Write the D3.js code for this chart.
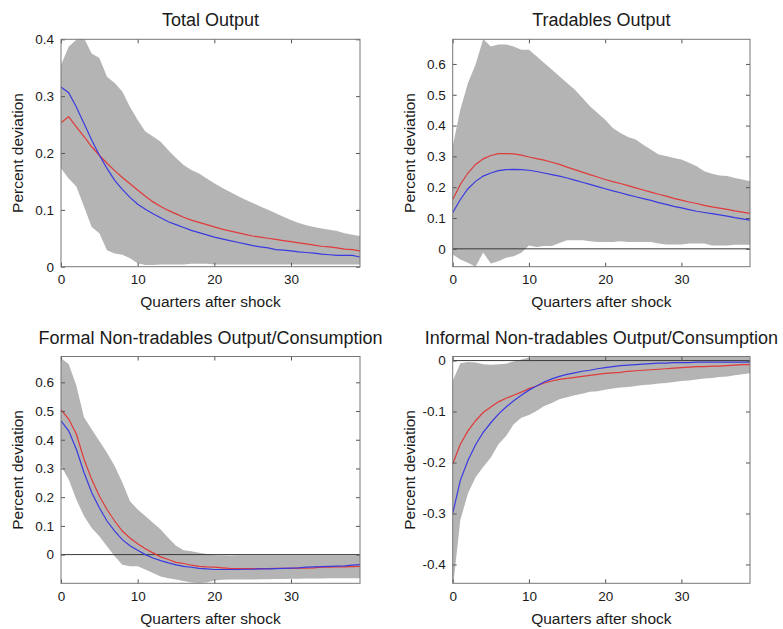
<!DOCTYPE html>
<html>
<head>
<meta charset="utf-8">
<script src="https://cdn.jsdelivr.net/npm/d3@7"></script>
<style>
  html, body { margin: 0; padding: 0; background: #fff; }
  svg text { font-family: "Liberation Sans", Arial, Helvetica, sans-serif; fill: #1a1a1a; }
</style>
</head>
<body>
<svg id="chart" width="783" height="629"></svg>
<script>
// Impulse responses, quarters 0..39 after the shock
const quarters = d3.range(0, 40);
const xTicks = [0, 10, 20, 30];

const panelTitles = [
  "Total Output",
  "Tradables Output",
  "Formal Non-tradables Output/Consumption",
  "Informal Non-tradables Output/Consumption"
];
const xAxisLabel = "Quarters after shock";
const yAxisLabel = "Percent deviation";

// Total output
const totalUpper = [.355,.387,.399,.402,.375,.367,.334,.323,.308,.281,.258,.238,.229,.220,.205,.191,.179,.170,.164,.155,.147,.139,.132,.125,.118,.112,.106,.100,.094,.088,.082,.077,.073,.070,.067,.065,.063,.059,.056,.054];
const totalLower = [.173,.155,.141,.106,.070,.059,.029,.023,.021,.015,.006,.003,.003,.004,.004,.004,.004,.005,.005,.005,.004,.004,.004,.004,.004,.004,.004,.004,.004,.004,.004,.004,.004,.004,.004,.004,.004,.004,.004,.004];
const totalRed   = [.253,.264,.246,.229,.211,.196,.182,.169,.157,.146,.135,.124,.114,.106,.099,.093,.087,.082,.078,.074,.070,.066,.063,.060,.057,.054,.052,.050,.048,.046,.044,.042,.040,.038,.036,.035,.033,.031,.030,.028];
const totalBlue  = [.316,.306,.281,.252,.223,.196,.173,.152,.136,.122,.110,.101,.093,.086,.079,.074,.069,.064,.060,.056,.052,.049,.046,.043,.040,.037,.035,.033,.030,.029,.028,.026,.025,.024,.022,.021,.020,.020,.020,.017];

// Tradables output
const tradUpper = [.333,.452,.538,.598,.681,.657,.663,.663,.657,.646,.646,.625,.603,.582,.560,.538,.517,.490,.463,.441,.419,.392,.376,.363,.355,.338,.322,.306,.301,.295,.290,.279,.268,.252,.244,.238,.236,.230,.225,.219];
const tradLower = [-.018,-.035,-.045,-.058,-.012,-.048,-.040,-.029,-.024,-.013,.011,.006,.009,.009,.019,.028,.028,.028,.025,.022,.022,.022,.025,.022,.022,.022,.022,.017,.014,.014,.014,.017,.017,.017,.011,.011,.011,.013,.013,.013];
const tradRed   = [.160,.209,.246,.274,.292,.303,.309,.309,.308,.304,.298,.293,.288,.281,.274,.265,.257,.249,.241,.233,.225,.218,.212,.205,.198,.191,.184,.177,.171,.164,.158,.152,.147,.141,.136,.132,.128,.123,.119,.115];
const tradBlue  = [.117,.160,.195,.219,.236,.246,.254,.257,.258,.257,.255,.251,.246,.241,.236,.230,.223,.216,.209,.202,.195,.188,.182,.175,.169,.163,.157,.150,.144,.138,.133,.127,.122,.118,.114,.110,.106,.101,.097,.093];

// Formal non-tradables output / consumption
const formalUpper = [.684,.664,.589,.478,.437,.396,.355,.309,.251,.186,.157,.134,.111,.087,.058,.031,.015,.012,.006,.002,-.002,-.002,-.003,-.002,-.002,-.002,-.002,-.002,-.002,-.002,-.002,-.002,-.002,-.002,-.002,-.002,-.002,-.002,-.002,-.002];
const formalLower = [.309,.262,.192,.134,.093,.064,.029,-.006,-.035,-.041,-.041,-.052,-.064,-.076,-.082,-.087,-.092,-.097,-.099,-.097,-.090,-.088,-.087,-.087,-.087,-.087,-.086,-.086,-.085,-.085,-.084,-.084,-.083,-.083,-.083,-.082,-.082,-.082,-.082,-.082];
const formalRed   = [.505,.472,.420,.332,.262,.204,.157,.117,.082,.058,.038,.020,.006,-.008,-.017,-.027,-.031,-.037,-.041,-.043,-.044,-.046,-.048,-.049,-.049,-.049,-.049,-.049,-.048,-.048,-.048,-.047,-.047,-.046,-.044,-.044,-.043,-.043,-.042,-.041];
const formalBlue  = [.466,.431,.367,.286,.216,.163,.117,.082,.052,.031,.015,.000,-.012,-.021,-.029,-.036,-.041,-.044,-.048,-.050,-.052,-.052,-.052,-.052,-.051,-.051,-.050,-.050,-.049,-.048,-.047,-.046,-.044,-.043,-.042,-.041,-.040,-.039,-.037,-.035];

// Informal non-tradables output / consumption
const informalUpper = [-.040,-.005,-.003,-.004,-.007,-.008,-.007,-.006,-.002,.002,.006,.008,.008,.008,.008,.008,.008,.008,.008,.008,.008,.008,.008,.008,.008,.008,.008,.008,.008,.008,.008,.008,.008,.008,.008,.008,.008,.008,.008,.008];
const informalLower = [-.450,-.313,-.261,-.229,-.209,-.190,-.164,-.148,-.125,-.112,-.107,-.099,-.089,-.083,-.076,-.072,-.068,-.065,-.061,-.060,-.057,-.055,-.053,-.052,-.050,-.048,-.047,-.045,-.044,-.042,-.040,-.039,-.037,-.035,-.034,-.032,-.031,-.029,-.027,-.025];
const informalRed   = [-.203,-.164,-.138,-.118,-.102,-.091,-.081,-.074,-.068,-.062,-.055,-.050,-.044,-.040,-.037,-.035,-.033,-.031,-.029,-.027,-.025,-.024,-.023,-.021,-.020,-.019,-.018,-.017,-.016,-.015,-.014,-.013,-.012,-.012,-.011,-.011,-.010,-.009,-.008,-.008];
const informalBlue  = [-.300,-.235,-.196,-.165,-.141,-.122,-.105,-.091,-.079,-.068,-.058,-.050,-.042,-.036,-.031,-.027,-.024,-.021,-.019,-.016,-.014,-.012,-.010,-.009,-.008,-.007,-.006,-.005,-.005,-.004,-.004,-.004,-.003,-.003,-.003,-.003,-.003,-.003,-.003,-.003];

const yTicksTotal = [0, 0.1, 0.2, 0.3, 0.4];
const yTicksTrad = [0, 0.1, 0.2, 0.3, 0.4, 0.5, 0.6];
const yTicksFormal = [0, 0.1, 0.2, 0.3, 0.4, 0.5, 0.6];
const yTicksInformal = [-0.4, -0.3, -0.2, -0.1, 0];

const panels = [
  { title: panelTitles[0], upper: totalUpper, lower: totalLower, red: totalRed, blue: totalBlue,
    yDomain: [0, 0.4], yTicks: yTicksTotal, box: [61, 39.3, 360, 266.7], zero: false },
  { title: panelTitles[1], upper: tradUpper, lower: tradLower, red: tradRed, blue: tradBlue,
    yDomain: [-0.058, 0.68], yTicks: yTicksTrad, box: [452.7, 39.3, 750, 266.7], zero: true },
  { title: panelTitles[2], upper: formalUpper, lower: formalLower, red: formalRed, blue: formalBlue,
    yDomain: [-0.1, 0.69], yTicks: yTicksFormal, box: [61, 356.5, 360, 583.3], zero: true },
  { title: panelTitles[3], upper: informalUpper, lower: informalLower, red: informalRed, blue: informalBlue,
    yDomain: [-0.437, 0.008], yTicks: yTicksInformal, box: [452.7, 356.5, 750, 583.3], zero: true }
];

const svg = d3.select("#chart");
const fmt = d => d === 0 ? "0" : (d < 0 ? "-" : "") + d3.format(".1f")(Math.abs(d));
const tickLen = 4;

panels.forEach((p, k) => {
  const [x0, y0, x1, y1] = p.box;
  const x = d3.scaleLinear().domain([0, 39]).range([x0, x1]);
  const y = d3.scaleLinear().domain(p.yDomain).range([y1, y0]);
  const g = svg.append("g");

  const clipId = "clip" + k;
  svg.append("clipPath").attr("id", clipId)
    .append("rect").attr("x", x0).attr("y", y0).attr("width", x1 - x0).attr("height", y1 - y0);

  const plot = g.append("g").attr("clip-path", `url(#${clipId})`);

  // confidence band
  const band = d3.area()
    .x((d, i) => x(quarters[i]))
    .y0((d, i) => y(p.lower[i]))
    .y1((d, i) => y(p.upper[i]));
  plot.append("path").datum(quarters).attr("d", band).attr("fill", "#b4b4b4");

  // zero reference line
  if (p.zero) {
    plot.append("line")
      .attr("x1", x0).attr("x2", x1)
      .attr("y1", y(0)).attr("y2", y(0))
      .attr("stroke", "#3a3a3a").attr("stroke-width", 1);
  }

  const line = arr => d3.line().x((d, i) => x(quarters[i])).y((d, i) => y(arr[i]))(quarters);
  plot.append("path").attr("d", line(p.red)).attr("fill", "none")
    .attr("stroke", "#e03a3a").attr("stroke-width", 1.2);
  plot.append("path").attr("d", line(p.blue)).attr("fill", "none")
    .attr("stroke", "#3a3ae0").attr("stroke-width", 1.2);

  // frame with inward ticks on all sides
  const axisG = g.append("g");
  const bottom = d3.axisBottom(x).tickValues(xTicks).tickSize(-tickLen).tickPadding(8).tickFormat(d3.format("d"));
  const top = d3.axisTop(x).tickValues(xTicks).tickSize(-tickLen).tickFormat("");
  const left = d3.axisLeft(y).tickValues(p.yTicks).tickSize(-tickLen).tickPadding(7).tickFormat(fmt);
  const right = d3.axisRight(y).tickValues(p.yTicks).tickSize(-tickLen).tickFormat("");

  axisG.append("g").attr("transform", `translate(0,${y1})`).call(bottom);
  axisG.append("g").attr("transform", `translate(0,${y0})`).call(top);
  axisG.append("g").attr("transform", `translate(${x0},0)`).call(left);
  axisG.append("g").attr("transform", `translate(${x1},0)`).call(right);
  axisG.selectAll(".domain").remove();
  axisG.selectAll(".tick line").attr("stroke", "#555");
  axisG.selectAll(".tick text").attr("font-size", 13.5).attr("fill", "#1a1a1a")
    .style("font-family", "'Liberation Sans', Arial, sans-serif");

  g.append("rect").attr("x", x0).attr("y", y0)
    .attr("width", x1 - x0).attr("height", y1 - y0)
    .attr("fill", "none").attr("stroke", "#777").attr("stroke-width", 1);

  // title and axis labels
  g.append("text").attr("x", (x0 + x1) / 2).attr("y", y0 - 13)
    .attr("text-anchor", "middle").attr("font-size", 18).text(p.title);
  g.append("text").attr("x", (x0 + x1) / 2).attr("y", y1 + 40.5)
    .attr("text-anchor", "middle").attr("font-size", 15.5).text(xAxisLabel);
  g.append("text")
    .attr("transform", `translate(${x0 - 43},${(y0 + y1) / 2}) rotate(-90)`)
    .attr("text-anchor", "middle").attr("dy", "0.35em").attr("font-size", 15.5).text(yAxisLabel);
});
</script>
</body>
</html>
